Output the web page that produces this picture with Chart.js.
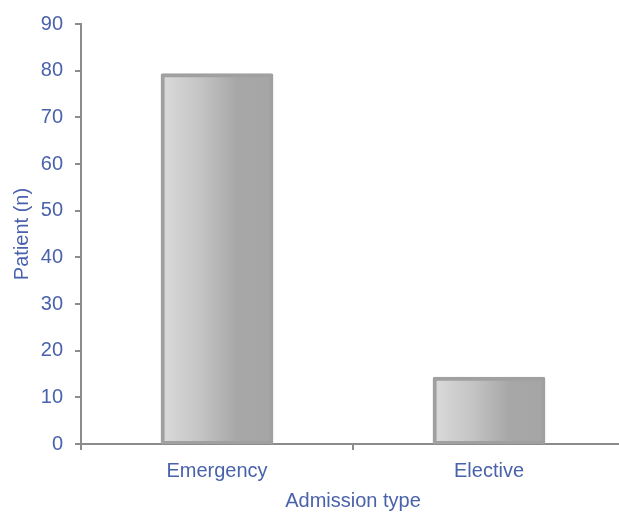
<!DOCTYPE html>
<html>
<head>
<meta charset="utf-8">
<script src="https://cdn.jsdelivr.net/npm/chart.js@4/dist/chart.umd.min.js"></script>
<style>
  html, body { margin: 0; padding: 0; background: #fff; overflow: hidden; }
  #wrap { position: relative; width: 640px; height: 513px; }
</style>
</head>
<body>
<div id="wrap"><canvas id="c" width="640" height="513"></canvas></div>
<script>
const categories = ["Emergency", "Elective"];
const patients = [79, 14];
const yTicks = [0, 10, 20, 30, 40, 50, 60, 70, 80, 90];

const textBlue = "#4a62ab";
const axisGrey = "#8c8c8c";
const BAR_PCT = 0.4;

// Horizontal grey shading across each bar, light on the left, darker to the right
function barShade(context) {
  const chart = context.chart;
  const xs = chart.scales.x;
  if (!xs || !chart.chartArea) return "#bbbbbb";
  const centre = xs.getPixelForValue(context.dataIndex);
  const w = (xs.width / categories.length) * BAR_PCT;
  const left = centre - w / 2;
  const g = chart.ctx.createLinearGradient(left, 0, left + w, 0);
  g.addColorStop(0, "#dadada");
  g.addColorStop(0.35, "#c4c4c4");
  g.addColorStop(0.68, "#a7a7a7");
  g.addColorStop(1, "#a5a5a5");
  return g;
}

const font = { family: "Liberation Sans", size: 20 };

new Chart(document.getElementById("c"), {
  type: "bar",
  data: {
    labels: categories,
    datasets: [{
      data: patients,
      backgroundColor: barShade,
      borderColor: "#a0a0a0",
      borderWidth: 4,
      inflateAmount: 2,
      borderSkipped: false,
      borderRadius: 2,
      barPercentage: BAR_PCT,
      categoryPercentage: 1
    }]
  },
  options: {
    responsive: false,
    animation: false,
    layout: { padding: { left: 0, right: 15, top: 16, bottom: 0 } },
    plugins: { legend: { display: false }, tooltip: { enabled: false } },
    scales: {
      x: {
        grid: { offset: true, drawOnChartArea: false, color: axisGrey, lineWidth: 2, tickLength: 6 },
        border: { color: axisGrey, width: 2 },
        ticks: { color: textBlue, font: font, padding: 9 },
        title: { display: true, text: "Admission type", color: textBlue,
                 font: font, padding: { top: 4, bottom: 0 } },
        afterFit(scale) { scale.height = 69; }
      },
      y: {
        min: 0, max: 90,
        afterBuildTicks(scale) { scale.ticks = yTicks.map(v => ({ value: v })); },
        grid: { drawOnChartArea: false, color: axisGrey, lineWidth: 2, tickLength: 6 },
        border: { color: axisGrey, width: 2 },
        ticks: { color: textBlue, font: font, padding: 12 },
        title: { display: true, text: "Patient (n)", color: textBlue,
                 font: font, padding: { top: 10, bottom: 0 } },
        afterFit(scale) { scale.width = 81; }
      }
    }
  }
});
</script>
</body>
</html>
